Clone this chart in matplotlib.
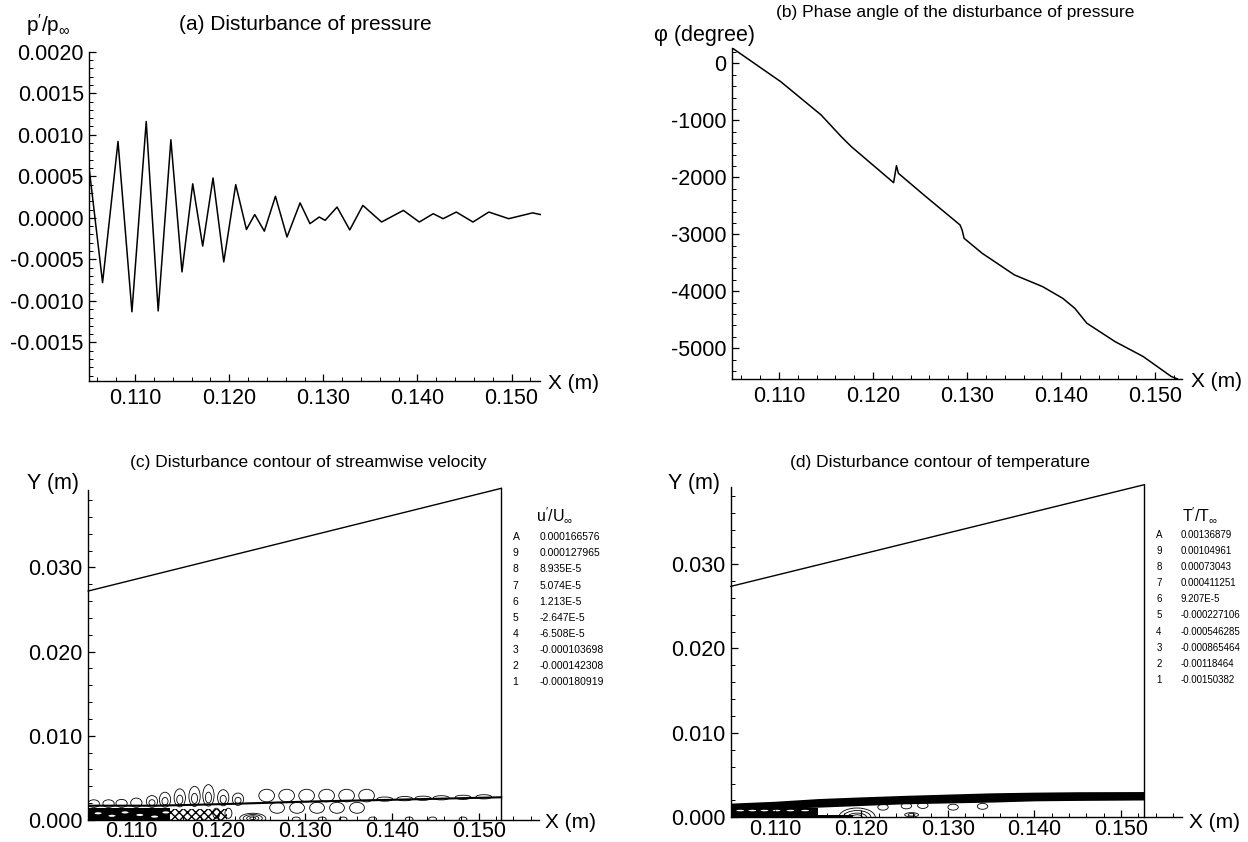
import numpy as np
import matplotlib
matplotlib.use("Agg")
import matplotlib.pyplot as plt
from matplotlib.patches import Ellipse
from matplotlib.ticker import MultipleLocator, FuncFormatter

plt.rcParams['font.family'] = ['Liberation Sans', 'DejaVu Sans']
plt.rcParams['axes.unicode_minus'] = False
plt.rcParams['mathtext.fontset'] = 'custom'
plt.rcParams['mathtext.rm'] = 'Liberation Sans'
plt.rcParams['mathtext.it'] = 'Liberation Sans:italic'

W, H = 1248, 842

# (a) disturbance of pressure: peaks and troughs
pres_x = [0.10514, 0.10654, 0.10818, 0.10966, 0.11118, 0.11245, 0.11380, 0.11498,
          0.11612, 0.11718, 0.11828, 0.11942, 0.12069, 0.12183, 0.12271, 0.12373,
          0.12491, 0.12614, 0.12753, 0.12858, 0.12956, 0.13019, 0.13146, 0.13281,
          0.13420, 0.13619, 0.13851, 0.14020, 0.14168, 0.14273, 0.14413, 0.14590,
          0.14759, 0.14970, 0.15224, 0.15308]
pres_y = [0.00057, -0.00078, 0.00092, -0.00113, 0.00116, -0.00112, 0.00094, -0.00065,
          0.00041, -0.00034, 0.00048, -0.00053, 0.00040, -0.00014, 0.00004, -0.00016,
          0.00026, -0.00023, 0.00018, -0.00007, 0.00001, -0.00003, 0.00013, -0.000145,
          0.00015, -0.00005, 0.00009, -0.00005, 0.00005, -0.00001, 0.00007, -0.00005,
          0.00007, -0.00001, 0.00006, 0.00004]

# (b) phase angle (degree)
phase_x = [0.1051, 0.1102, 0.11449, 0.11663, 0.1177, 0.12219, 0.12249, 0.1227,
           0.12562, 0.12925, 0.12947, 0.12968, 0.1316, 0.13503, 0.13802, 0.14016,
           0.14144, 0.14273, 0.14572, 0.14872, 0.15171, 0.15235]
phase_y = [263, -322, -906, -1287, -1462, -2094, -1795, -1930,
           -2339, -2836, -2924, -3070, -3333, -3713, -3918, -4123,
           -4298, -4561, -4883, -5146, -5497, -5538]

# contour legends
level_tags = ['A', '9', '8', '7', '6', '5', '4', '3', '2', '1']
u_levels = ['0.000166576', '0.000127965', '8.935E-5', '5.074E-5', '1.213E-5',
            '-2.647E-5', '-6.508E-5', '-0.000103698', '-0.000142308', '-0.000180919']
t_levels = ['0.00136879', '0.00104961', '0.00073043', '0.000411251', '9.207E-5',
            '-0.000227106', '-0.000546285', '-0.000865464', '-0.00118464', '-0.00150382']

# computational domain (outer boundary of the wedge)
c_dom_x = [0.10506, 0.1526]
c_dom_top = [0.0272, 0.0394]
d_dom_x = [0.1049, 0.1527]
d_dom_top = [0.02735, 0.0394]

# (c) u' contours near the wall
c_edge_x = [0.1051, 0.1130, 0.1210, 0.1309, 0.1400, 0.1526]
c_edge_y = [0.0017, 0.0017, 0.0019, 0.0022, 0.0024, 0.0027]
c_flame_x = [0.1057, 0.1074, 0.1089, 0.1106, 0.1124, 0.1139, 0.1156, 0.1173, 0.1189, 0.1206, 0.1223]
c_flame_top = [0.0024, 0.0024, 0.00245, 0.0026, 0.0029, 0.0033, 0.0037, 0.0040, 0.0042, 0.0036, 0.0032]
c_oval_x = [0.1256, 0.1279, 0.1302, 0.1325, 0.1348, 0.1371]
c_lens_x = [0.1392, 0.1415, 0.1436, 0.1457, 0.1482, 0.1506]
c_low_x = [0.1268, 0.1291, 0.1314, 0.1337, 0.1360]
c_bump_x = [0.1290, 0.1320, 0.1344, 0.1378, 0.1420, 0.1447, 0.1482]
c_ring_w = [0.0030, 0.0022, 0.0014, 0.0007]
c_ring_h = [0.0012, 0.0009, 0.0006, 0.0003]
c_speck_x = [0.1062, 0.1078, 0.1093, 0.1110, 0.1127, 0.1140]
c_speck_y = [0.0008, 0.0005, 0.0009, 0.0006, 0.0004, 0.0009]

# (d) T' contours near the wall
d_band_x = [0.1049, 0.110, 0.115, 0.120, 0.125, 0.130, 0.135, 0.140, 0.145, 0.1527]
d_band_hi = [0.00168, 0.0019, 0.00222, 0.00242, 0.0026, 0.00275, 0.0029, 0.00298, 0.00303, 0.00305]
d_band_lo = [0.0009, 0.00105, 0.0012, 0.0014, 0.0016, 0.0017, 0.0018, 0.00195, 0.002, 0.00205]
d_oval_x = [0.1225, 0.1252, 0.1271, 0.1306, 0.1340]
d_oval_y = [0.0012, 0.00135, 0.0014, 0.0012, 0.0013]
d_ring_w = [0.0042, 0.0032, 0.0022, 0.0012]
d_ring_h = [0.0011, 0.0008, 0.0005, 0.0003]
d_streak_x = [0.1060, 0.1074, 0.1088, 0.1102, 0.1118, 0.1135]


def rect(l, t, r, b):
    return [l / W, 1 - b / H, (r - l) / W, (b - t) / H]


def ftext(x, y, s, size, ha='center', va='center'):
    fig.text(x / W, 1 - y / H, s, fontsize=size, ha=ha, va=va)


def fmt(nd):
    def f(v, pos):
        if abs(v) < 1e-12:
            v = 0.0
        return f"{v:.{nd}f}"
    return FuncFormatter(f)


def style(ax, xmaj, xmin, ymaj, ymin, xnd, ynd, xpad):
    for s in ['top', 'right']:
        ax.spines[s].set_visible(False)
    for s in ['left', 'bottom']:
        ax.spines[s].set_linewidth(1.0)
    ax.xaxis.set_major_locator(MultipleLocator(xmaj))
    ax.xaxis.set_minor_locator(MultipleLocator(xmin))
    ax.yaxis.set_major_locator(MultipleLocator(ymaj))
    ax.yaxis.set_minor_locator(MultipleLocator(ymin))
    ax.xaxis.set_major_formatter(fmt(xnd))
    ax.yaxis.set_major_formatter(fmt(ynd))
    ax.tick_params(which='major', direction='in', length=5, width=0.9, labelsize=15.5)
    ax.tick_params(which='minor', direction='in', length=3, width=0.7)
    ax.tick_params(axis='y', pad=4)
    ax.tick_params(axis='x', pad=xpad)
    ax.patch.set_alpha(0)


def ell(ax, x, y, w, h, lw=0.6, fill=False, color='k'):
    ax.add_patch(Ellipse((x, y), w, h, fill=fill, ec=color, fc=color if fill else 'none', lw=lw))


fig = plt.figure(figsize=(W / 100, H / 100), dpi=100)

# ---- (a)
ax = fig.add_axes(rect(89.4, 51.7, 540.5, 380.7))
ax.plot(pres_x, pres_y, color='k', lw=1.1, solid_joinstyle='round')
ax.set_xlim(0.10514, 0.15308)
ax.set_ylim(-0.00196, 0.0020)
style(ax, 0.01, 0.002, 0.0005, 0.0001, 3, 4, 5)
ftext(48, 25, r"$\mathregular{p'/p_{\infty}}$", 15)
ftext(305, 25, '(a) Disturbance of pressure', 15)
ftext(548, 384, 'X (m)', 15, ha='left')

# ---- (b)
ax = fig.add_axes(rect(731.9, 48.3, 1181.6, 379))
ax.plot(phase_x, phase_y, color='k', lw=1.1, solid_joinstyle='round')
ax.set_xlim(0.105, 0.1528)
ax.set_ylim(-5540, 265)
style(ax, 0.01, 0.002, 1000, 200, 3, 0, 5)
ftext(705, 35, 'φ (degree)', 15.5)
ftext(955, 13, '(b) Phase angle of the disturbance of pressure', 12.5)
ftext(1191, 381, 'X (m)', 15, ha='left')

# ---- (c)
ax = fig.add_axes(rect(88.2, 490, 538.6, 820))
ax.set_xlim(0.10506, 0.1569)
ax.set_ylim(0, 0.0392)
style(ax, 0.01, 0.002, 0.01, 0.002, 3, 3, 0.5)
ax.plot(c_dom_x, c_dom_top, color='k', lw=1.0, clip_on=False)
ax.plot([c_dom_x[1], c_dom_x[1]], [0, c_dom_top[1]], color='k', lw=1.0, clip_on=False)
ax.plot(c_edge_x, c_edge_y, color='k', lw=1.5)
for x, top in zip(c_flame_x, c_flame_top):
    base = np.interp(x, c_edge_x, c_edge_y) - 0.0002
    ell(ax, x, (top + base) / 2, 0.0013, top - base)
    if top - base > 0.0012:
        ell(ax, x, base + (top - base) * 0.4, 0.0007, (top - base) * 0.5)
for x in c_oval_x:
    ell(ax, x, 0.0029, 0.0018, 0.0015)
for x in c_low_x:
    ell(ax, x, 0.00145, 0.0017, 0.0013)
for x in c_lens_x:
    ell(ax, x, np.interp(x, c_edge_x, c_edge_y) + 0.0001, 0.0018, 0.0005)
for x in c_bump_x:
    ell(ax, x, 0.0001, 0.0009, 0.0005)
for w, h in zip(c_ring_w, c_ring_h):
    ell(ax, 0.1240, 0.0002, w, h)
ell(ax, 0.1198, 0.0008, 0.0008, 0.0012)
ell(ax, 0.1212, 0.0008, 0.0008, 0.0012)
ax.fill_between([0.10506, 0.1145], 0, 0.00145, color='k', lw=0)
ax.fill_between([0.1145, 0.1210], 0, 0.0013, facecolor='none', edgecolor='k', hatch='xxxx', lw=0)
for x, y in zip(c_speck_x, c_speck_y):
    ell(ax, x, y, 0.0008, 0.00025, fill=True, color='white', lw=0)
ftext(53, 483, 'Y (m)', 15.5)
ftext(308, 462, '(c) Disturbance contour of streamwise velocity', 12.5)
ftext(545, 823, 'X (m)', 15, ha='left')
ftext(555, 515, r"$\mathregular{u'/U_{\infty}}$", 11.5)
for i, (tag, val) in enumerate(zip(level_tags, u_levels)):
    y = 537.3 + i * 16.1
    ftext(512.7, y, tag, 7.5, ha='left')
    ftext(539.5, y, val, 7.5, ha='left')

# ---- (d)
ax = fig.add_axes(rect(730.7, 486.7, 1181.6, 817.3))
ax.set_xlim(0.1049, 0.1570)
ax.set_ylim(0, 0.03916)
style(ax, 0.01, 0.002, 0.01, 0.002, 3, 3, 1.5)
ax.plot(d_dom_x, d_dom_top, color='k', lw=1.0, clip_on=False)
ax.plot([d_dom_x[1], d_dom_x[1]], [0, d_dom_top[1]], color='k', lw=1.0, clip_on=False)
ax.fill_between(d_band_x, d_band_lo, d_band_hi, color='k', lw=0)
ax.fill_between([0.1049, 0.1150], 0, 0.0011, color='k', lw=0)
ax.fill_between([0.1150, 0.1190], 0, 0.0003, color='k', lw=0)
for x in d_streak_x:
    ell(ax, x, 0.0008, 0.0009, 0.00018, fill=True, color='white', lw=0)
for w, h in zip(d_ring_w, d_ring_h):
    ell(ax, 0.1195, 0.0, w, h * 2)
for x, y in zip(d_oval_x, d_oval_y):
    ell(ax, x, y, 0.0012, 0.0007)
ell(ax, 0.1258, 0.0003, 0.0016, 0.0005)
ell(ax, 0.1258, 0.0003, 0.0008, 0.0003)
ftext(694, 483, 'Y (m)', 15.5)
ftext(940, 462, '(d) Disturbance contour of temperature', 12.5)
ftext(1189, 822, 'X (m)', 15, ha='left')
ftext(1200, 515, r"$\mathregular{T'/T_{\infty}}$", 11.5)
for i, (tag, val) in enumerate(zip(level_tags, t_levels)):
    y = 535 + i * 16.1
    ftext(1156.2, y, tag, 7, ha='left')
    ftext(1180.5, y, val, 7, ha='left')

fig.savefig('out.png', dpi=100)
